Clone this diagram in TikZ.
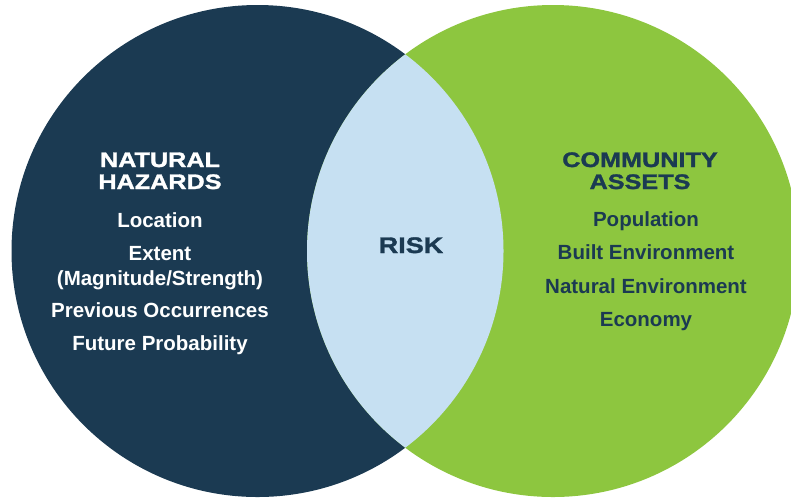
\documentclass[tikz,border=0pt]{standalone}
\usepackage{fontspec}
\setmainfont{Liberation Sans}
\newfontfamily\headfont[FakeStretch=1.2, FakeBold=1.5]{Liberation Sans}
\definecolor{hazardNavy}{RGB}{27,58,82}
\definecolor{assetGreen}{RGB}{141,198,63}
\definecolor{riskBlue}{RGB}{198,224,242}
\begin{document}
\begin{tikzpicture}[
            x=1pt, y=-1pt,
            head/.style={font=\headfont\bfseries\fontsize{21}{22}\selectfont, align=center, anchor=base},
            item/.style={font=\bfseries\fontsize{20.5}{25}\selectfont, align=center, anchor=base},
        ]
            \useasboundingbox (0,0) rectangle (791,499);
            \coordinate (hazc) at (257.5,251);
            \coordinate (assc) at (553,251);
            \fill[hazardNavy] (hazc) circle (246pt);
            \fill[assetGreen] (assc) circle (246pt);
            % overlap
            \begin{scope}
                \clip (hazc) circle (246pt);
                \fill[riskBlue] (assc) circle (246pt);
            \end{scope}
            \node[head, font=\headfont\bfseries\fontsize{22.5}{25}\selectfont, text=hazardNavy] (risk) at (411,253) {RISK};
            % hazards
            \node[head, text=white] (hazn) at (160,189) {NATURAL\\HAZARDS};
            \node[item, text=white] (loc) at (160,227) {Location};
            \node[item, text=white] (ext) at (160,285) {Extent\\(Magnitude/Strength)};
            \node[item, text=white] (prev) at (160,317) {Previous Occurrences};
            \node[item, text=white] (fut) at (160,350) {Future Probability};
            % assets
            \node[head, text=hazardNavy] (assn) at (640,189) {COMMUNITY\\ASSETS};
            \node[item, text=hazardNavy] (pop) at (646,226) {Population};
            \node[item, text=hazardNavy] (built) at (646,259.5) {Built Environment};
            \node[item, text=hazardNavy] (nat) at (646,293) {Natural Environment};
            \node[item, text=hazardNavy] (eco) at (646,326) {Economy};
        \end{tikzpicture}
\end{document}
